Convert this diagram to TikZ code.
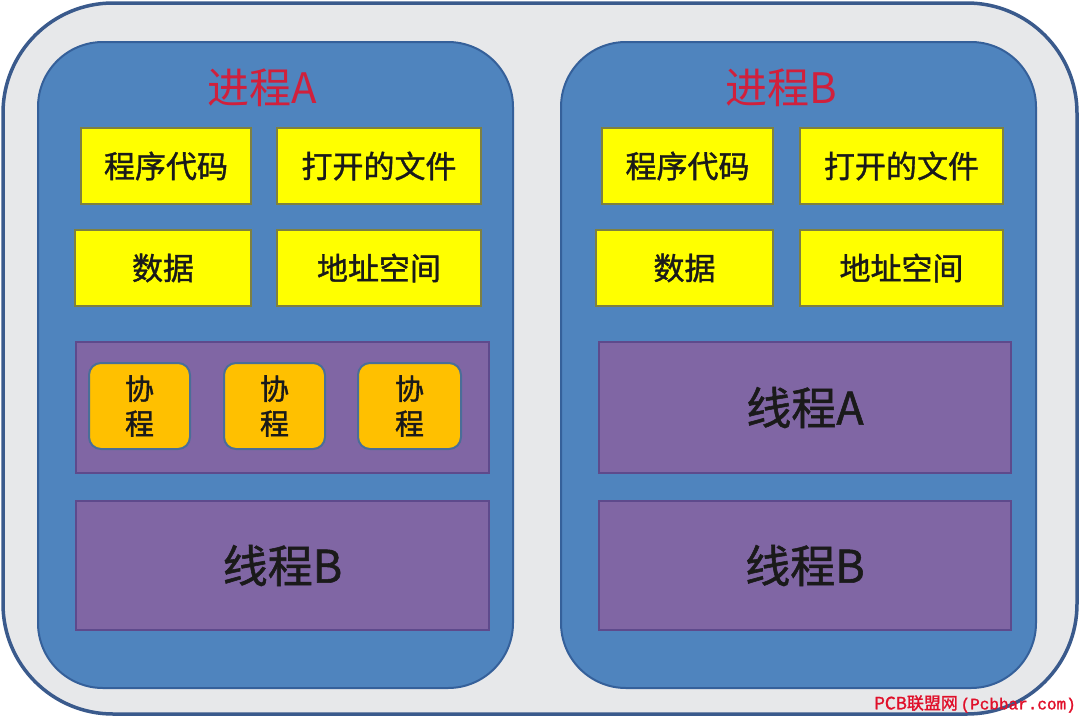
\documentclass[tikz,border=0pt]{standalone}
\usepackage{fontspec}
\setmainfont{Noto Sans CJK SC}
\newfontfamily\cjk{Noto Sans CJK SC}
\newfontfamily\cjkm[FakeBold=1.2]{Noto Sans CJK SC}
\newfontfamily\wmfont[FakeBold=1.5]{Noto Sans CJK SC}
\newfontfamily\wmmono[FakeBold=1.5]{Liberation Mono}
\definecolor{outerfill}{HTML}{E7E8EA}
\definecolor{outerline}{HTML}{3A5A8C}
\definecolor{procfill}{HTML}{4F84BE}
\definecolor{procline}{HTML}{35609A}
\definecolor{yel}{HTML}{FFFF00}
\definecolor{yelline}{HTML}{7E8040}
\definecolor{purp}{HTML}{8066A4}
\definecolor{purpline}{HTML}{5E4A8C}
\definecolor{oran}{HTML}{FFC000}
\definecolor{oranline}{HTML}{4A6E98}
\definecolor{titlered}{HTML}{D0203C}
\definecolor{txt}{HTML}{1A1A1A}
\definecolor{wmred}{HTML}{E0102A}
\tikzset{
  outerbox/.style={draw=outerline, line width=3.5pt, fill=outerfill, rounded corners=110pt, minimum width=1074pt, minimum height=711pt, inner sep=0pt},
  procbox/.style={draw=procline, line width=2pt, fill=procfill, rounded corners=65pt, minimum width=475pt, minimum height=646pt, inner sep=0pt},
  titletext/.style={text=titlered, font=\cjk\fontsize{42}{46}\selectfont, inner sep=0pt},
  yelbox/.style={draw=yelline, line width=1.5pt, fill=yel, minimum height=76pt, inner sep=0pt, text=txt, font=\cjkm\fontsize{31}{34}\selectfont},
  purpbox/.style={draw=purpline, line width=2.5pt, fill=purp, minimum width=413pt, inner sep=0pt, text=txt, font=\cjkm\fontsize{45}{48}\selectfont},
  corobox/.style={draw=oranline, line width=2pt, fill=oran, rounded corners=12pt, minimum height=86pt, inner sep=0pt, text=txt, align=center, font=\cjkm\fontsize{29}{35}\selectfont},
}
\begin{document}
\begin{tikzpicture}[x=1pt,y=-1pt]
\useasboundingbox (0,0) rectangle (1080,718);
\node[outerbox] (outer) at (540,358.5) {};
% process boxes
\node[procbox] (pa) at (275.5,365) {};
\node[procbox] (pb) at (798.5,365) {};
% titles
\node[titletext] (ta) at (262,88) {进程A};
\node[titletext] (tb) at (781,88) {进程B};
% process A resources
\node[yelbox, minimum width=170pt] (a1) at (166,166) {程序代码};
\node[yelbox, minimum width=204pt] (a2) at (379,166) {打开的文件};
\node[yelbox, minimum width=176pt] (a3) at (163,268) {数据};
\node[yelbox, minimum width=204pt] (a4) at (379,268) {地址空间};
% process B resources
\node[yelbox, minimum width=171pt] (b1) at (687.5,166) {程序代码};
\node[yelbox, minimum width=203pt] (b2) at (901.5,166) {打开的文件};
\node[yelbox, minimum width=177pt] (b3) at (684.5,268) {数据};
\node[yelbox, minimum width=203pt] (b4) at (901.5,268) {地址空间};
% process A threads
\node[purpbox, minimum height=131pt] (athA) at (282.5,407.5) {};
\node[corobox, minimum width=101pt] (c1) at (139.5,406) {协\\程};
\node[corobox, minimum width=101pt] (c2) at (274.5,406) {协\\程};
\node[corobox, minimum width=103pt] (c3) at (409.5,406) {协\\程};
\node[purpbox, minimum height=129pt] (athB) at (282.5,565.5) {线程B};
% process B threads
\node[purpbox, minimum width=412pt, minimum height=131pt] (bthA) at (805,407.5) {线程A};
\node[purpbox, minimum width=412pt, minimum height=129pt] (bthB) at (805,565.5) {线程B};
% watermark
\node[anchor=east, inner sep=0pt, text=wmred, font=\wmfont\fontsize{17}{18}\selectfont] (wm) at (1076,704) {PCB联盟网{\wmmono\fontsize{16}{18}\selectfont\,(Pcbbar.com)}};
\end{tikzpicture}
\end{document}
